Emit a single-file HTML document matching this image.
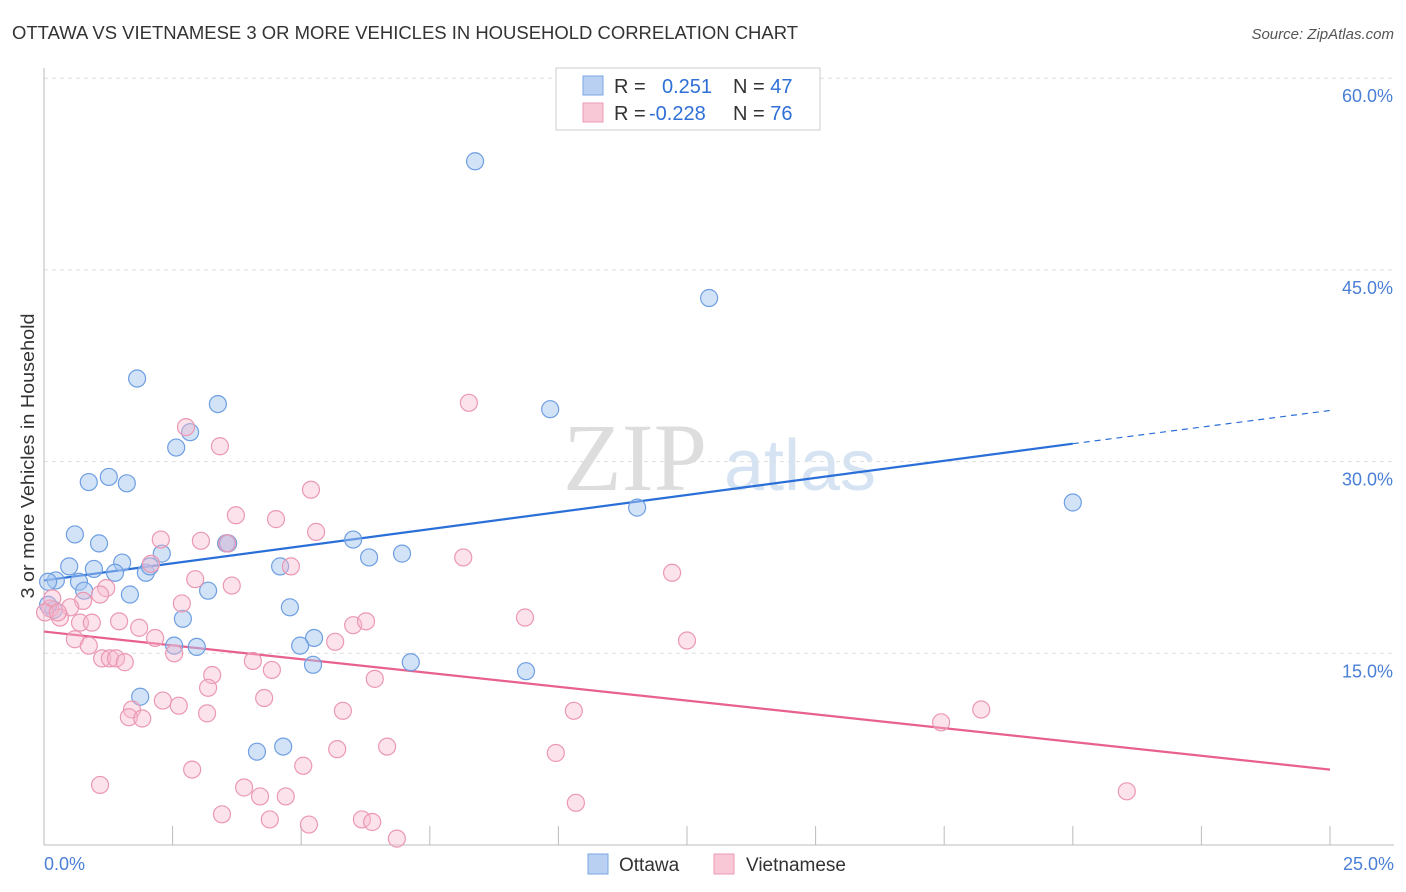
<!DOCTYPE html>
<html><head><meta charset="utf-8">
<style>
body{margin:0;background:#fff;font-family:"Liberation Sans",sans-serif;}
svg{display:block}
</style></head>
<body>
<svg id="chart" width="1406" height="892">
<text x="12" y="39" font-size="18" fill="#333" textLength="786" lengthAdjust="spacingAndGlyphs">OTTAWA VS VIETNAMESE 3 OR MORE VEHICLES IN HOUSEHOLD CORRELATION CHART</text>
<text x="1394" y="39" font-size="15" fill="#555" text-anchor="end" font-style="italic">Source: ZipAtlas.com</text>
<text x="0" y="0" transform="translate(34,456) rotate(-90)" font-size="18" fill="#333" text-anchor="middle" textLength="285" lengthAdjust="spacingAndGlyphs">3 or more Vehicles in Household</text>
<g>
<text x="635" y="490" font-size="96" fill="#ddd" font-family="Liberation Serif,serif" text-anchor="middle">ZIP</text>
<text x="800" y="490" font-size="72" fill="#d6e3f3" text-anchor="middle">atlas</text>
</g>
<g id="grid"></g><g id="axes"></g><g id="lines"></g><g id="pts"></g>
<g>
<rect x="556" y="68" width="264" height="62" fill="#fff" stroke="#ccc"/>
<rect x="583" y="76" width="20" height="19" fill="#b9d0f3" stroke="#7aa6e3"/>
<rect x="583" y="103" width="20" height="19" fill="#f9c8d6" stroke="#ec9ab3"/>
<text x="614" y="93" font-size="20" fill="#333">R = <tspan fill="#2f6fd6" x="662">0.251</tspan><tspan x="733" fill="#333">N = </tspan><tspan fill="#2f6fd6">47</tspan></text>
<text x="614" y="120" font-size="20" fill="#333">R = <tspan fill="#2f6fd6" x="649">-0.228</tspan><tspan x="733" fill="#333">N = </tspan><tspan fill="#2f6fd6">76</tspan></text>
</g>
<g>
<rect x="588" y="854" width="20" height="20" fill="#b9d0f3" stroke="#7aa6e3"/>
<text x="619" y="871" font-size="19" fill="#333">Ottawa</text>
<rect x="714" y="854" width="20" height="20" fill="#f9c8d6" stroke="#ec9ab3"/>
<text x="746" y="871" font-size="19" fill="#333">Vietnamese</text>
</g>
</svg>
<script>
const ottawaX=[8.38,12.93,1.81,3.38,9.84,2.84,2.57,1.26,1.61,0.87,20.0,11.53,0.60,1.07,6.01,3.54,2.29,6.96,6.32,0.49,0.97,1.52,1.38,1.98,0.23,0.68,0.08,4.59,0.78,1.67,3.19,4.78,2.70,2.53,2.97,5.25,4.98,5.23,7.13,9.37,1.87,4.14,4.65,2.06,0.19,0.08,3.58];
const ottawaY=[53.5,42.8,36.5,34.5,34.1,32.3,31.1,28.8,28.3,28.4,26.8,26.4,24.3,23.6,23.9,23.6,22.8,22.8,22.5,21.8,21.6,22.1,21.3,21.3,20.7,20.6,20.6,21.8,19.9,19.6,19.9,18.6,17.7,15.6,15.5,16.2,15.6,14.1,14.3,13.6,11.6,7.3,7.7,21.8,18.4,18.8,23.6];
const vietX=[8.26,2.76,3.42,5.19,3.73,4.51,5.29,2.27,3.05,3.56,8.15,2.08,4.80,1.21,2.94,3.65,2.68,0.76,0.51,0.12,0.31,0.70,0.93,1.46,1.85,2.16,6.01,6.26,0.60,0.87,5.66,2.53,1.13,1.28,1.40,1.57,4.06,4.43,6.43,3.27,3.19,4.28,2.31,2.62,5.81,3.17,1.71,1.65,1.91,5.70,6.67,2.88,5.04,1.09,3.89,4.20,4.70,3.46,4.39,5.15,6.18,6.38,6.86,12.50,12.21,9.35,17.44,18.22,21.05,10.30,9.95,10.34,0.16,0.02,1.09,0.27];
const vietY=[34.6,32.7,31.2,27.8,25.8,25.5,24.5,23.9,23.8,23.6,22.5,22.0,21.8,20.1,20.8,20.3,18.9,19.1,18.6,18.5,17.8,17.4,17.4,17.5,17.0,16.2,17.2,17.5,16.1,15.6,15.9,15.0,14.6,14.6,14.6,14.3,14.4,13.7,13.0,13.3,12.3,11.5,11.3,10.9,10.5,10.3,10.6,10.0,9.9,7.5,7.7,5.9,6.2,4.7,4.5,3.8,3.8,2.4,2.0,1.6,2.0,1.8,0.5,16.0,21.3,17.8,9.6,10.6,4.2,10.5,7.2,3.3,19.3,18.2,19.6,18.2];
const yTicks=[15,30,45,60];
const yTickLabels=["15.0%","30.0%","45.0%","60.0%"];
const xTicks=[0,2.5,5,7.5,10,12.5,15,17.5,20,22.5,25];
const ottawaTrend=[20.7,31.4,34.0];
const ottawaTrendX=[0,20,25];
const vietTrend=[16.7,5.9];
const vietTrendX=[0,25];

const NS="http://www.w3.org/2000/svg";
const X=v=>44+v*51.44, Y=v=>845-v*12.78;
function mk(tag,attrs,parent){const e=document.createElementNS(NS,tag);for(const k in attrs)e.setAttribute(k,attrs[k]);document.getElementById(parent).appendChild(e);return e;}

yTicks.forEach((t,i)=>{
 const g=mk('line',{x1:44,x2:1394,y1:Y(t),y2:Y(t),stroke:'#ddd','stroke-dasharray':'4,4'},'grid');
 
 
 const l=mk('text',{x:1393,y:Y(t)+24,'font-size':18,fill:'#4a7fd6','text-anchor':'end'},'grid');
 l.textContent=yTickLabels[i];
 
 
});
const ya=mk('line',{x1:44,x2:44,y1:68,y2:845,stroke:'#bbb'},'axes');


const xa=mk('line',{x1:44,x2:1394,y1:845,y2:845,stroke:'#bbb'},'axes');


xTicks.forEach(t=>{
 const k=mk('line',{x1:X(t),x2:X(t),y1:826,y2:845,stroke:'#bbb'},'axes');
 
 
});
const xl0=mk('text',{x:44,y:870,'font-size':18,fill:'#4a7fd6'},'axes');
xl0.textContent=xTicks[0].toFixed(1)+'%';


const xl1=mk('text',{x:1394,y:870,'font-size':18,fill:'#4a7fd6','text-anchor':'end'},'axes');
xl1.textContent=xTicks[xTicks.length-1].toFixed(1)+'%';



ottawaX.forEach((v,i)=>{
 const c=mk('circle',{cx:X(v),cy:Y(ottawaY[i]),r:8.5,fill:'rgba(165,198,240,0.5)',stroke:'#6e9fe2','stroke-width':1.2},'pts');
 
 
});
vietX.forEach((v,i)=>{
 const c=mk('circle',{cx:X(v),cy:Y(vietY[i]),r:8.5,fill:'rgba(247,185,204,0.4)',stroke:'#eb98b2','stroke-width':1.2},'pts');
 
 
});
const b1=mk('line',{x1:X(ottawaTrendX[0]),y1:Y(ottawaTrend[0]),x2:X(ottawaTrendX[1]),y2:Y(ottawaTrend[1]),stroke:'#2a6fd8','stroke-width':2.2},'lines');


const b2=mk('line',{x1:X(ottawaTrendX[1]),y1:Y(ottawaTrend[1]),x2:X(ottawaTrendX[2]),y2:Y(ottawaTrend[2]),stroke:'#2a6fd8','stroke-width':1.2,'stroke-dasharray':'6,5'},'lines');


const p1=mk('line',{x1:X(vietTrendX[0]),y1:Y(vietTrend[0]),x2:X(vietTrendX[1]),y2:Y(vietTrend[1]),stroke:'#e8608e','stroke-width':2.2},'lines');


</script>
</body></html>
